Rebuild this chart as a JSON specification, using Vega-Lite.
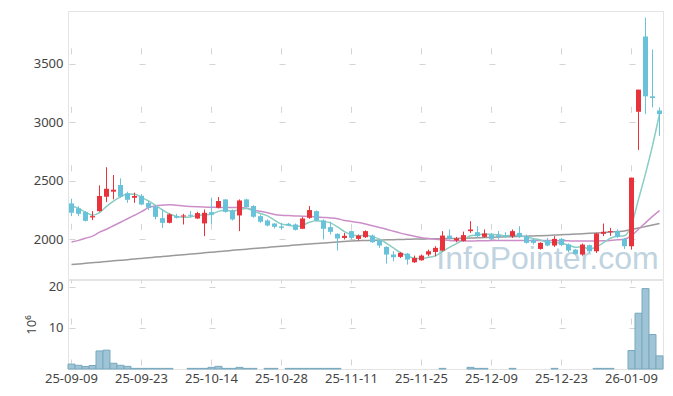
{
"$schema": "https://vega.github.io/schema/vega-lite/v6.json",
"background": "white",
"padding": {"left": 24, "top": 10, "right": 10, "bottom": 0},
"config": {
  "font": "Noto Sans",
  "view": {"stroke": "#e4e4e4", "strokeWidth": 1},
  "axis": {"labelFont": "Noto Sans", "labelFontSize": 13, "labelColor": "#444444", "domain": false, "ticks": false, "gridColor": "#d4d4d4", "gridWidth": 1, "titleFont": "Noto Sans", "titleFontSize": 13, "titleColor": "#444444", "titleFontWeight": "normal"}
},
"data": {"values": [
{"d":"25-09-09","o":2306,"h":2346,"l":2197,"c":2226,"v":1.2,"m5":2283,"m20":1977,"m60":1783},
{"d":"25-09-10","o":2263,"h":2283,"l":2197,"c":2217,"v":0.9,"m5":2262,"m20":1990,"m60":1788},
{"d":"25-09-11","o":2232,"h":2240,"l":2152,"c":2157,"v":0.6,"m5":2232,"m20":2008,"m60":1794},
{"d":"25-09-12","o":2186,"h":2240,"l":2163,"c":2197,"v":0.85,"m5":2205,"m20":2026,"m60":1799},
{"d":"25-09-15","o":2240,"h":2460,"l":2235,"c":2369,"v":4.4,"m5":2228,"m20":2060,"m60":1804},
{"d":"25-09-16","o":2363,"h":2615,"l":2317,"c":2431,"v":4.6,"m5":2280,"m20":2085,"m60":1810},
{"d":"25-09-17","o":2406,"h":2549,"l":2340,"c":2423,"v":1.4,"m5":2325,"m20":2115,"m60":1815},
{"d":"25-09-18","o":2463,"h":2520,"l":2354,"c":2363,"v":0.9,"m5":2362,"m20":2145,"m60":1820},
{"d":"25-09-19","o":2392,"h":2406,"l":2311,"c":2337,"v":0.65,"m5":2387,"m20":2175,"m60":1825},
{"d":"25-09-22","o":2354,"h":2397,"l":2311,"c":2369,"v":0.15,"m5":2385,"m20":2205,"m60":1831},
{"d":"25-09-23","o":2371,"h":2386,"l":2291,"c":2297,"v":0.15,"m5":2358,"m20":2235,"m60":1836},
{"d":"25-09-24","o":2309,"h":2326,"l":2249,"c":2269,"v":0.15,"m5":2327,"m20":2270,"m60":1841},
{"d":"25-09-25","o":2277,"h":2294,"l":2169,"c":2191,"v":0.15,"m5":2290,"m20":2285,"m60":1847},
{"d":"25-09-26","o":2180,"h":2254,"l":2097,"c":2140,"v":0.15,"m5":2250,"m20":2291,"m60":1852},
{"d":"25-09-29","o":2140,"h":2220,"l":2135,"c":2212,"v":0.15,"m5":2215,"m20":2295,"m60":1857},
{"d":"25-09-30","o":2197,"h":2217,"l":2177,"c":2183,"v":0.05,"m5":2195,"m20":2290,"m60":1862},
{"d":"25-10-01","o":2194,"h":2217,"l":2126,"c":2203,"v":0.05,"m5":2188,"m20":2284,"m60":1868},
{"d":"25-10-02","o":2209,"h":2240,"l":2189,"c":2200,"v":0.15,"m5":2190,"m20":2280,"m60":1873},
{"d":"25-10-10","o":2177,"h":2234,"l":2174,"c":2223,"v":0.15,"m5":2204,"m20":2277,"m60":1878},
{"d":"25-10-13","o":2135,"h":2254,"l":2026,"c":2226,"v":0.15,"m5":2208,"m20":2275,"m60":1884},
{"d":"25-10-14","o":2231,"h":2354,"l":2131,"c":2209,"v":0.4,"m5":2214,"m20":2273,"m60":1889},
{"d":"25-10-15","o":2269,"h":2360,"l":2263,"c":2326,"v":0.65,"m5":2238,"m20":2272,"m60":1894},
{"d":"25-10-16","o":2340,"h":2342,"l":2226,"c":2234,"v":0.15,"m5":2248,"m20":2271,"m60":1899},
{"d":"25-10-17","o":2246,"h":2254,"l":2160,"c":2169,"v":0.15,"m5":2240,"m20":2271,"m60":1905},
{"d":"25-10-20","o":2203,"h":2340,"l":2069,"c":2331,"v":0.4,"m5":2254,"m20":2270,"m60":1910},
{"d":"25-10-21","o":2340,"h":2346,"l":2269,"c":2274,"v":0.15,"m5":2262,"m20":2265,"m60":1915},
{"d":"25-10-22","o":2283,"h":2291,"l":2183,"c":2192,"v":0.15,"m5":2240,"m20":2250,"m60":1920},
{"d":"25-10-23","o":2197,"h":2211,"l":2140,"c":2149,"v":0.05,"m5":2220,"m20":2238,"m60":1925},
{"d":"25-10-24","o":2160,"h":2169,"l":2109,"c":2117,"v":0.15,"m5":2200,"m20":2226,"m60":1930},
{"d":"25-10-27","o":2134,"h":2137,"l":2092,"c":2106,"v":0.15,"m5":2163,"m20":2212,"m60":1935},
{"d":"25-10-28","o":2109,"h":2140,"l":2080,"c":2097,"v":0.05,"m5":2130,"m20":2205,"m60":1940},
{"d":"25-10-29","o":2132,"h":2140,"l":2112,"c":2117,"v":0.15,"m5":2120,"m20":2202,"m60":1945},
{"d":"25-10-30","o":2126,"h":2134,"l":2074,"c":2080,"v":0.15,"m5":2108,"m20":2199,"m60":1950},
{"d":"25-10-31","o":2089,"h":2189,"l":2089,"c":2177,"v":0.15,"m5":2118,"m20":2197,"m60":1955},
{"d":"25-11-03","o":2183,"h":2283,"l":2174,"c":2249,"v":0.15,"m5":2145,"m20":2194,"m60":1960},
{"d":"25-11-04","o":2240,"h":2246,"l":2154,"c":2160,"v":0.15,"m5":2158,"m20":2190,"m60":1964},
{"d":"25-11-05","o":2160,"h":2169,"l":1998,"c":2089,"v":0.15,"m5":2152,"m20":2186,"m60":1968},
{"d":"25-11-06","o":2103,"h":2149,"l":2040,"c":2063,"v":0.15,"m5":2140,"m20":2182,"m60":1972},
{"d":"25-11-07","o":2046,"h":2051,"l":1903,"c":2006,"v":0.15,"m5":2105,"m20":2175,"m60":1977},
{"d":"25-11-10","o":2011,"h":2054,"l":1998,"c":2029,"v":0.05,"m5":2065,"m20":2160,"m60":1981},
{"d":"25-11-11","o":2069,"h":2074,"l":1998,"c":2011,"v":0.05,"m5":2038,"m20":2152,"m60":1985},
{"d":"25-11-12","o":2003,"h":2040,"l":1989,"c":2031,"v":0.05,"m5":2030,"m20":2143,"m60":1987},
{"d":"25-11-13","o":2017,"h":2075,"l":2011,"c":2069,"v":0.05,"m5":2032,"m20":2130,"m60":1989},
{"d":"25-11-14","o":2031,"h":2040,"l":1969,"c":1974,"v":0.05,"m5":2022,"m20":2115,"m60":1991},
{"d":"25-11-17","o":1991,"h":1997,"l":1926,"c":1946,"v":0.05,"m5":2000,"m20":2100,"m60":1993},
{"d":"25-11-18","o":1934,"h":1940,"l":1791,"c":1869,"v":0.05,"m5":1965,"m20":2085,"m60":1995},
{"d":"25-11-19","o":1869,"h":1897,"l":1811,"c":1846,"v":0.05,"m5":1925,"m20":2068,"m60":1996},
{"d":"25-11-20","o":1849,"h":1891,"l":1840,"c":1883,"v":0.05,"m5":1885,"m20":2052,"m60":1998},
{"d":"25-11-21","o":1877,"h":1883,"l":1783,"c":1826,"v":0.05,"m5":1858,"m20":2038,"m60":1999},
{"d":"25-11-24","o":1803,"h":1860,"l":1797,"c":1840,"v":0.05,"m5":1838,"m20":2025,"m60":2001},
{"d":"25-11-25","o":1820,"h":1869,"l":1817,"c":1860,"v":0.05,"m5":1835,"m20":2012,"m60":2002},
{"d":"25-11-26","o":1869,"h":1911,"l":1854,"c":1897,"v":0.05,"m5":1845,"m20":2006,"m60":2003},
{"d":"25-11-27","o":1891,"h":1940,"l":1854,"c":1926,"v":0.05,"m5":1858,"m20":2000,"m60":2004},
{"d":"25-11-28","o":1903,"h":2069,"l":1897,"c":2031,"v":0.15,"m5":1895,"m20":1995,"m60":2005},
{"d":"25-12-01","o":2031,"h":2083,"l":1997,"c":2006,"v":0.05,"m5":1930,"m20":1990,"m60":2006},
{"d":"25-12-02","o":1989,"h":2020,"l":1974,"c":2006,"v":0.05,"m5":1962,"m20":1987,"m60":2007},
{"d":"25-12-03","o":1985,"h":2065,"l":1980,"c":2035,"v":0.05,"m5":1995,"m20":1985,"m60":2008},
{"d":"25-12-04","o":2069,"h":2154,"l":2054,"c":2083,"v":0.4,"m5":2030,"m20":1985,"m60":2010},
{"d":"25-12-05","o":2060,"h":2111,"l":2011,"c":2026,"v":0.15,"m5":2035,"m20":1986,"m60":2012},
{"d":"25-12-08","o":2020,"h":2083,"l":2011,"c":2049,"v":0.15,"m5":2045,"m20":1987,"m60":2014},
{"d":"25-12-09","o":2040,"h":2054,"l":1991,"c":2003,"v":0.05,"m5":2042,"m20":1988,"m60":2016},
{"d":"25-12-10","o":2034,"h":2069,"l":1997,"c":2020,"v":0.05,"m5":2038,"m20":1989,"m60":2018},
{"d":"25-12-11","o":2031,"h":2060,"l":2011,"c":2020,"v":0.05,"m5":2028,"m20":1990,"m60":2020},
{"d":"25-12-12","o":2026,"h":2083,"l":2011,"c":2069,"v":0.15,"m5":2035,"m20":1990,"m60":2022},
{"d":"25-12-15","o":2054,"h":2111,"l":2011,"c":2020,"v":0.05,"m5":2030,"m20":1990,"m60":2024},
{"d":"25-12-16","o":2026,"h":2040,"l":1963,"c":1969,"v":0.05,"m5":2018,"m20":1990,"m60":2026},
{"d":"25-12-17","o":1997,"h":2003,"l":1954,"c":1969,"v":0.05,"m5":2005,"m20":1990,"m60":2028},
{"d":"25-12-18","o":1917,"h":1974,"l":1911,"c":1969,"v":0.05,"m5":1993,"m20":1989,"m60":2030},
{"d":"25-12-19","o":1991,"h":2011,"l":1940,"c":1946,"v":0.05,"m5":1972,"m20":1988,"m60":2032},
{"d":"25-12-22","o":1946,"h":2026,"l":1934,"c":2003,"v":0.15,"m5":1970,"m20":1988,"m60":2035},
{"d":"25-12-23","o":2003,"h":2011,"l":1940,"c":1950,"v":0.05,"m5":1965,"m20":1987,"m60":2038},
{"d":"25-12-24","o":1954,"h":1963,"l":1889,"c":1903,"v":0.05,"m5":1950,"m20":1986,"m60":2041},
{"d":"25-12-26","o":1911,"h":1917,"l":1869,"c":1874,"v":0.05,"m5":1932,"m20":1985,"m60":2044},
{"d":"25-12-29","o":1869,"h":1963,"l":1860,"c":1954,"v":0.05,"m5":1935,"m20":1985,"m60":2047},
{"d":"25-12-30","o":1949,"h":1954,"l":1883,"c":1897,"v":0.05,"m5":1915,"m20":1984,"m60":2050},
{"d":"26-01-02","o":1897,"h":2054,"l":1883,"c":2049,"v":0.15,"m5":1935,"m20":1985,"m60":2053},
{"d":"26-01-05","o":2046,"h":2134,"l":2026,"c":2063,"v":0.15,"m5":1970,"m20":1987,"m60":2057},
{"d":"26-01-06","o":2060,"h":2097,"l":2029,"c":2069,"v":0.15,"m5":2008,"m20":1990,"m60":2061},
{"d":"26-01-07","o":2069,"h":2083,"l":2011,"c":2020,"v":0.05,"m5":2025,"m20":1995,"m60":2065},
{"d":"26-01-08","o":2003,"h":2011,"l":1917,"c":1940,"v":0.05,"m5":2030,"m20":2000,"m60":2070},
{"d":"26-01-09","o":1940,"h":2526,"l":1911,"c":2526,"v":4.5,"m5":2124,"m20":2030,"m60":2083},
{"d":"26-01-12","o":3089,"h":3278,"l":2763,"c":3278,"v":13.6,"m5":2340,"m20":2085,"m60":2095},
{"d":"26-01-13","o":3732,"h":3893,"l":3069,"c":3221,"v":19.6,"m5":2560,"m20":2140,"m60":2108},
{"d":"26-01-14","o":3221,"h":3621,"l":3126,"c":3207,"v":8.4,"m5":2800,"m20":2195,"m60":2121},
{"d":"26-01-15","o":3100,"h":3126,"l":2883,"c":3069,"v":3.2,"m5":3070,"m20":2245,"m60":2134}
]},
"spacing": -3,
"vconcat": [
{
  "width": 595,
  "height": 268,
  "encoding": {
    "x": {"field": "d", "type": "ordinal", "sort": null, "scale": {"paddingInner": 0, "paddingOuter": 0},
      "axis": {"title": null, "labels": false, "minExtent": 0, "grid": true, "values": ["25-09-09","25-09-23","25-10-14","25-10-28","25-11-11","25-11-25","25-12-09","25-12-23","26-01-09"], "gridDash": [6, 52.515], "gridDashOffset": 21.725}}
  },
  "layer": [
    {"mark": {"type": "line", "color": "#9a9a9a", "strokeWidth": 1.5, "interpolate": "monotone"},
     "encoding": {"y": {"field": "m60", "type": "quantitative", "scale": {"domain": [1660, 3950], "nice": false, "zero": false},
       "axis": {"title": null, "format": "d", "values": [2000, 2500, 3000, 3500], "labelPadding": 5, "grid": true, "gridDash": [6, 64], "gridDashOffset": 69}}}},
    {"transform": [{"filter": "datum.d == '25-12-19'"}],
     "mark": {"type": "text", "text": "InfoPointer.com", "font": "Liberation Sans", "fontSize": 32, "color": "#bfd3e0", "align": "center", "baseline": "alphabetic"},
     "encoding": {"y": {"datum": 1745, "type": "quantitative"}}},
    {"mark": {"type": "line", "color": "#cc8ec8", "strokeWidth": 1.5, "interpolate": "monotone"},
     "encoding": {"y": {"field": "m20", "type": "quantitative"}}},
    {"mark": {"type": "line", "color": "#8acdc2", "strokeWidth": 1.5, "interpolate": "monotone"},
     "encoding": {"y": {"field": "m5", "type": "quantitative"}}},
    {"mark": {"type": "rule", "strokeWidth": 1},
     "encoding": {"y": {"field": "l", "type": "quantitative"}, "y2": {"field": "h"},
       "color": {"condition": {"test": "datum.c >= datum.o", "value": "#e8323c"}, "value": "#68c2d9"}}},
    {"mark": {"type": "bar", "size": 5},
     "encoding": {"y": {"field": "o", "type": "quantitative"}, "y2": {"field": "c"},
       "color": {"condition": {"test": "datum.c >= datum.o", "value": "#e8323c"}, "value": "#68c2d9"}}}
  ]
},
{
  "width": 595,
  "height": 89,
  "transform": [{"filter": "datum.v >= 0.1"}],
  "mark": {"type": "bar", "fill": "#9ec4d5", "stroke": "#78a9bf", "strokeWidth": 1},
  "encoding": {
    "x": {"field": "d", "type": "ordinal", "sort": null, "scale": {"domain": ["25-09-09","25-09-10","25-09-11","25-09-12","25-09-15","25-09-16","25-09-17","25-09-18","25-09-19","25-09-22","25-09-23","25-09-24","25-09-25","25-09-26","25-09-29","25-09-30","25-10-01","25-10-02","25-10-10","25-10-13","25-10-14","25-10-15","25-10-16","25-10-17","25-10-20","25-10-21","25-10-22","25-10-23","25-10-24","25-10-27","25-10-28","25-10-29","25-10-30","25-10-31","25-11-03","25-11-04","25-11-05","25-11-06","25-11-07","25-11-10","25-11-11","25-11-12","25-11-13","25-11-14","25-11-17","25-11-18","25-11-19","25-11-20","25-11-21","25-11-24","25-11-25","25-11-26","25-11-27","25-11-28","25-12-01","25-12-02","25-12-03","25-12-04","25-12-05","25-12-08","25-12-09","25-12-10","25-12-11","25-12-12","25-12-15","25-12-16","25-12-17","25-12-18","25-12-19","25-12-22","25-12-23","25-12-24","25-12-26","25-12-29","25-12-30","26-01-02","26-01-05","26-01-06","26-01-07","26-01-08","26-01-09","26-01-12","26-01-13","26-01-14","26-01-15"], "paddingInner": 0, "paddingOuter": 0},
      "axis": {"title": null, "labelAngle": 0, "labelPadding": 3, "values": ["25-09-09","25-09-23","25-10-14","25-10-28","25-11-11","25-11-25","25-12-09","25-12-23","26-01-09"], "grid": true, "gridDash": [6, 35.01], "gridDashOffset": 3}},
    "y": {"field": "v", "type": "quantitative", "scale": {"domain": [0, 21.7], "nice": false},
      "axis": {"title": "10⁶", "titlePadding": 10, "values": [10, 20], "labelPadding": 5, "grid": true, "gridDash": [6, 64], "gridDashOffset": 69}}
  }
}
]
}
